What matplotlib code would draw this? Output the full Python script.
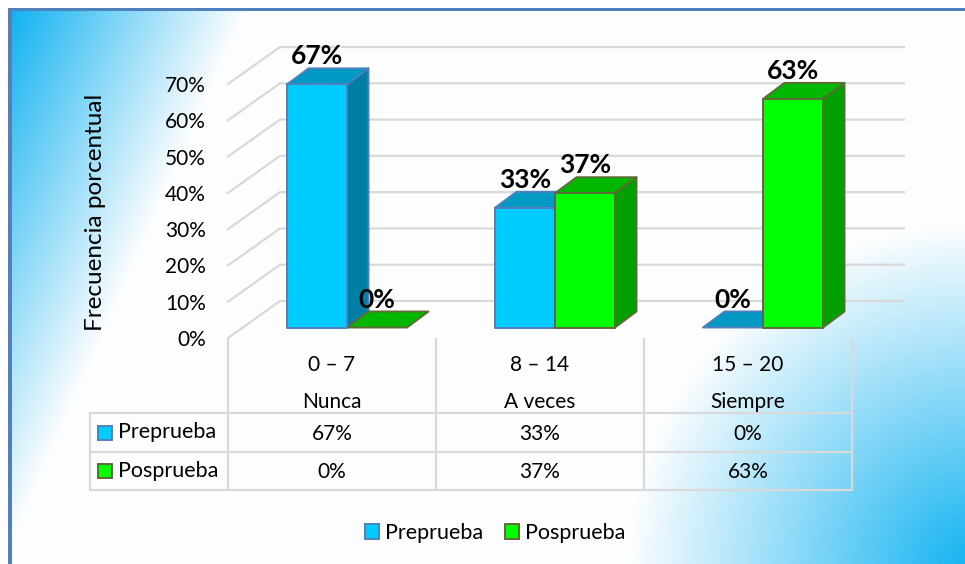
#!/usr/bin/env python

import numpy as np
from matplotlib import pyplot as plt
from matplotlib.patches import Patch

# data
categories = ["0 – 7", "8 – 14", "15 – 20"]
scale_names = ["Nunca", "A veces", "Siempre"]
series_names = ["Preprueba", "Posprueba"]
preprueba = [67, 33, 0]
posprueba = [0, 37, 63]
y_ticks = [0, 10, 20, 30, 40, 50, 60, 70]

W, H = 965, 564
FONT = "Lato"

BLUE = {"front": "#00ccff", "side": "#007fa6", "top": "#0099c4", "edge": "#4f81bd"}
GREEN = {"front": "#00ff00", "side": "#00a000", "top": "#00b800", "edge": "#5d6b35"}
GRID = "#d9d9d9"

plt.rcParams["font.family"] = FONT


def background(fig):
    # two corner gradients on an off white base
    bg = fig.add_axes([0, 0, 1, 1], zorder=0)
    xx, yy = np.meshgrid(np.arange(W), np.arange(H))
    t1 = np.clip(1 - ((xx - 10) + 0.44 * (yy - 10)) / 235, 0, 1)
    t2 = np.clip(1 - np.hypot(xx - 975, yy - 570) / 345, 0, 1)
    t = np.maximum(t1, t2)[..., None]
    base = np.array([252, 253, 254]) / 255
    blue = np.array([16, 178, 241]) / 255
    img = base * (1 - t) + blue * t
    bg.imshow(img, extent=(0, W, H, 0), aspect="auto", interpolation="bilinear")
    # white margin and blue frame
    bg.fill_between([0, W], 0, 8, color="white", lw=0)
    bg.fill_between([0, 8], 0, H, color="white", lw=0)
    bg.fill_between([8, W], 8, 11, color="#4f81bd", lw=0)
    bg.fill_between([8, 12], 8, H, color="#4f81bd", lw=0)
    bg.set_xlim(0, W)
    bg.set_ylim(H, 0)
    bg.axis("off")
    return bg


def bar3d(ax, x0, w, y0, val, depth_x, depth_y, col):
    x1 = x0 + w
    y1 = y0 + val
    kw = dict(edgecolor=col["edge"], linewidth=1.4, clip_on=False, joinstyle="round")
    ax.fill([x0, x1, x1 + depth_x, x0 + depth_x], [y1, y1, y1 + depth_y, y1 + depth_y],
            facecolor=col["top"], zorder=3, **kw)
    if val > 0:
        ax.fill([x1, x1 + depth_x, x1 + depth_x, x1], [y0, y0 + depth_y, y1 + depth_y, y1],
                facecolor=col["side"], zorder=3, **kw)
        ax.fill([x0, x1, x1, x0], [y0, y0, y1, y1], facecolor=col["front"], zorder=4, **kw)


def main():
    fig = plt.figure(figsize=(W / 100, H / 100), dpi=100)
    fig.patch.set_facecolor("white")
    background(fig)

    # chart axes cover the front plane of the 3d box
    ax = fig.add_axes([228 / W, 1 - 338 / H, 624 / W, 254 / H], zorder=2)
    ax.patch.set_alpha(0)
    ax.set_xlim(0, 3)
    ax.set_ylim(0, 70)
    for s in ax.spines.values():
        s.set_visible(False)
    px_x = 3 / 624
    px_y = 70 / 254

    # walls
    wall_x, wall_y = 52 * px_x, 37 * px_y
    for v in y_ticks:
        ax.plot([0, wall_x, 3 + wall_x], [v, v + wall_y, v + wall_y], color=GRID, lw=1.6,
                clip_on=False, zorder=1, solid_joinstyle="miter")

    # bars
    bar_w = 60 * px_x
    shift_x, shift_y = 15 * px_x, 10.5 * px_y
    dep_x, dep_y = 21.5 * px_x, 16 * px_y
    for i in range(len(categories)):
        x_a = i + 0.5 - bar_w + shift_x
        x_b = i + 0.5 + shift_x
        order = [(x_a, preprueba[i], BLUE), (x_b, posprueba[i], GREEN)]
        for x0, val, col in order:
            bar3d(ax, x0, bar_w, shift_y, val, dep_x, dep_y, col)
            ax.annotate(f"{val}%", (x0 + bar_w / 2, val + shift_y), xytext=(0, 28),
                        textcoords="offset pixels", ha="center", va="center",
                        fontsize=19, fontweight="bold", color="black", zorder=6,
                        annotation_clip=False)

    # axes text
    ax.set_yticks(y_ticks)
    ax.set_yticklabels([f"{v}%" for v in y_ticks], fontsize=15)
    ax.tick_params(axis="y", length=0, pad=16)
    ax.xaxis.remove_overlapping_locs = False
    ax.set_xticks(np.arange(3) + 0.5)
    ax.set_xticklabels(categories, fontsize=15)
    ax.tick_params(axis="x", length=0, pad=12)
    ax.set_xticks(np.arange(3) + 0.5, minor=True)
    ax.set_xticklabels(scale_names, minor=True, fontsize=15)
    ax.tick_params(axis="x", which="minor", length=0, pad=39)
    ax.set_ylabel("Frecuencia porcentual", fontsize=17.5, labelpad=0)
    ax.yaxis.set_label_coords((106 - 228) / 624, (338 - 212) / 254)

    # data table, laid out on the pixel axes
    edges = [228, 436, 644, 852]
    rows = [413, 452, 490]
    tb = fig.add_axes([0, 0, 1, 1], zorder=1)
    tb.patch.set_alpha(0)
    tb.set_xlim(0, W)
    tb.set_ylim(H, 0)
    tb.axis("off")
    for x in edges:
        tb.plot([x, x], [338, rows[-1]], color=GRID, lw=1.6, solid_capstyle="butt")
    tb.plot([90, 90], [rows[0], rows[-1]], color=GRID, lw=1.6, solid_capstyle="projecting")
    for y in rows:
        tb.plot([90, 852], [y, y], color=GRID, lw=1.6, solid_capstyle="projecting")

    table = [preprueba, posprueba]
    colours = [BLUE, GREEN]
    for r, vals in enumerate(table):
        yc = (rows[r] + rows[r + 1]) / 2
        tb.add_patch(plt.Rectangle((98, yc - 7), 14, 14, facecolor=colours[r]["front"],
                                   edgecolor=colours[r]["edge"], lw=1.4))
        tb.text(118, yc, series_names[r], fontsize=15.5, va="center", ha="left")
        for i, v in enumerate(vals):
            tb.text((edges[i] + edges[i + 1]) / 2, yc + 1.5, f"{v}%", fontsize=15, va="center", ha="center")

    handles = [Patch(facecolor=c["front"], edgecolor=c["edge"], lw=1.4) for c in colours]
    fig.legend(handles, series_names, loc="center", bbox_to_anchor=(495 / W, 1 - 533 / H),
               ncol=2, frameon=False, fontsize=15.5, handlelength=0.65, handleheight=0.65,
               handletextpad=0.3, columnspacing=1.0)

    fig.savefig("out.png", dpi=100, facecolor=fig.get_facecolor())


if __name__ == "__main__":
    main()
